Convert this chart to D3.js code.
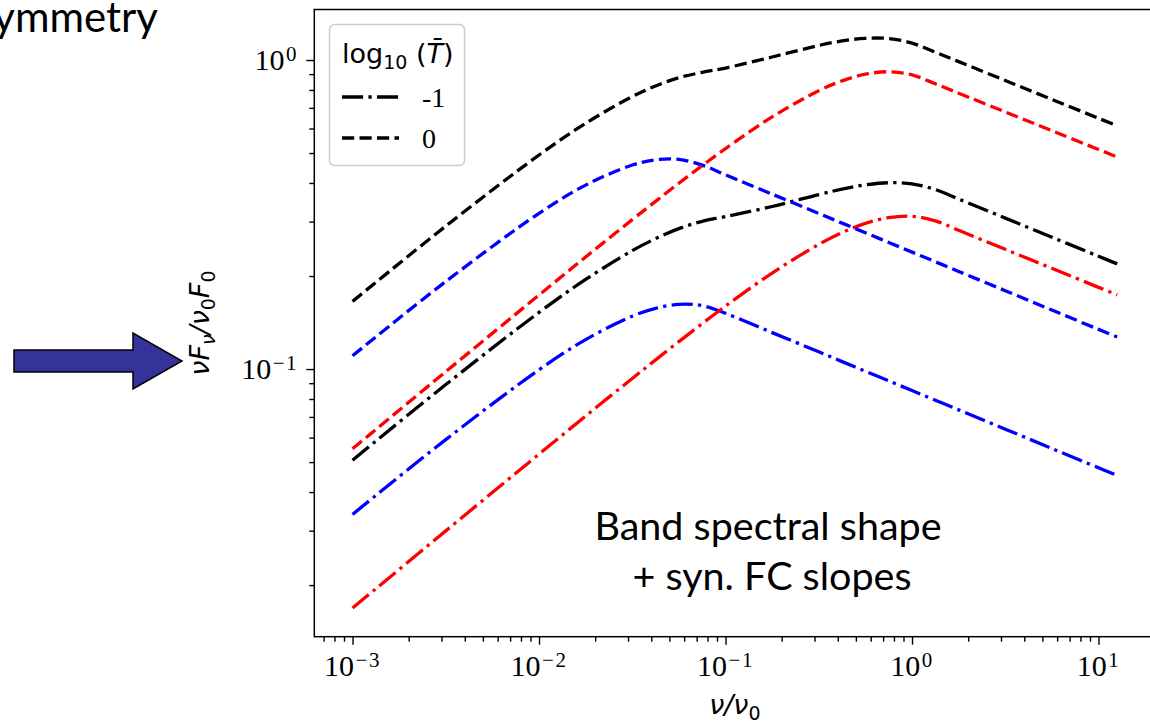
<!DOCTYPE html>
<html>
<head>
<meta charset="utf-8">
<script src="https://cdn.jsdelivr.net/npm/d3@7"></script>
<style>
  body { margin: 0; background: #fff; }
  svg { display: block; }
</style>
</head>
<body>
<svg id="chart" width="1150" height="721"></svg>
<script>
// Frequency grid, nu / nu_0
const nu = [0.001, 0.003162, 0.01, 0.01778, 0.03162, 0.04217, 0.05623, 0.07499, 0.1, 0.1778,
            0.3162, 0.4217, 0.5623, 0.7499, 1, 1.334, 1.778, 3.162, 5.623, 10, 12.59];

// nuF_nu / nu_0 F_0 for log10(T) = 0 (dashed)
const redT0   = [0.0552, 0.0981, 0.1736, 0.2304, 0.3044, 0.3489, 0.3994, 0.4553, 0.5169, 0.6545,
                 0.7954, 0.8562, 0.8995, 0.9162, 0.8950, 0.8375, 0.7810, 0.6791, 0.5905, 0.5134, 0.4855];
const blueT0  = [0.1104, 0.1920, 0.3190, 0.3937, 0.4572, 0.4753, 0.4770, 0.4569, 0.4250, 0.3681,
                 0.3188, 0.2966, 0.2761, 0.2569, 0.2390, 0.2224, 0.2070, 0.1793, 0.1552, 0.1344, 0.1269];
const blackT0 = [0.1656, 0.2901, 0.4926, 0.6241, 0.7616, 0.8242, 0.8764, 0.9122, 0.9419, 1.0226,
                 1.1142, 1.1528, 1.1756, 1.1731, 1.1340, 1.0599, 0.9880, 0.8584, 0.7457, 0.6478, 0.6124];

// nuF_nu / nu_0 F_0 for log10(T) = -1 (dash-dot)
const redT1   = [0.01686, 0.02995, 0.05306, 0.07047, 0.09326, 0.1071, 0.1227, 0.1403, 0.1599, 0.2045,
                 0.2532, 0.2764, 0.2960, 0.3091, 0.3122, 0.3015, 0.2812, 0.2440, 0.2118, 0.1838, 0.1737];
const blueT1  = [0.03386, 0.05913, 0.09947, 0.1245, 0.1483, 0.1572, 0.1619, 0.1604, 0.1515, 0.1312,
                 0.1137, 0.1057, 0.0984, 0.09156, 0.0852, 0.07929, 0.07379, 0.0639, 0.05534, 0.04792, 0.04524];
const blackT1 = [0.05072, 0.08908, 0.1525, 0.1950, 0.2416, 0.2643, 0.2846, 0.3007, 0.3114, 0.3357,
                 0.3669, 0.3821, 0.3944, 0.4007, 0.3974, 0.3808, 0.3550, 0.3079, 0.2671, 0.2317, 0.2189];

// Axis ticks and labels
const xMajor = [1e-3, 1e-2, 1e-1, 1, 10];
const xTickExp = ["\u22123", "\u22122", "\u22121", "0", "1"];
const yMajor = [0.1, 1];
const yTickExp = ["\u22121", "0"];

// Legend
const legendTitle = "log";
const legendEntries = ["-1", "0"];

const W = 1150, H = 721;
const svg = d3.select("#chart");
svg.append("rect").attr("width", W).attr("height", H).attr("fill", "#fff");

const box = { left: 314.3, right: 1155.4, top: 9.5, bottom: 636.7 };
const x = d3.scaleLog().domain([Math.pow(10, -3.205), Math.pow(10, 1.305)]).range([box.left, box.right]);
const y = d3.scaleLog().domain([Math.pow(10, -1.866), Math.pow(10, 0.1634)]).range([box.bottom, box.top]);

const lw = 3.3;
const dashed = [3.7 * lw, 1.6 * lw].join(",");
const dashDot = [6.4 * lw, 1.6 * lw, 1 * lw, 1.6 * lw].join(",");

// minor tick values
function minors(scale) {
  const [a, b] = scale.domain();
  const out = [];
  for (let e = Math.floor(Math.log10(a)); e <= Math.ceil(Math.log10(b)); e++) {
    for (let m = 2; m <= 9; m++) {
      const v = m * Math.pow(10, e);
      if (v >= a && v <= b) out.push(v);
    }
  }
  return out;
}

// ---- axes ----
const gx = svg.append("g").attr("transform", `translate(0,${box.bottom})`);
gx.call(d3.axisBottom(x).tickValues(xMajor).tickSize(8).tickSizeOuter(0).tickFormat(""));
gx.append("g").call(d3.axisBottom(x).tickValues(minors(x)).tickSize(5).tickSizeOuter(0).tickFormat(""));
const gy = svg.append("g").attr("transform", `translate(${box.left},0)`);
gy.call(d3.axisLeft(y).tickValues(yMajor).tickSize(8).tickSizeOuter(0).tickFormat(""));
gy.append("g").call(d3.axisLeft(y).tickValues(minors(y)).tickSize(5).tickSizeOuter(0).tickFormat(""));
svg.selectAll(".domain").remove();
svg.selectAll(".tick line").attr("stroke", "#000").attr("stroke-width", 1.4);

// tick labels 10^n
function powLabel(sel, exp) {
  sel.append("tspan").text("10");
  sel.append("tspan").attr("font-size", 21).attr("dx", 1.5).attr("dy", -9)
    .attr("letter-spacing", 1.5).text(exp);
}
svg.append("g").selectAll("text").data(xMajor).join("text")
  .attr("x", d => x(d)).attr("y", 676)
  .attr("text-anchor", "middle")
  .attr("font-family", "Liberation Serif, serif").attr("font-size", 30).attr("fill", "#000")
  .each(function (d, i) { powLabel(d3.select(this), xTickExp[i]); });
svg.append("g").selectAll("text").data(yMajor).join("text")
  .attr("x", 298).attr("y", d => y(d) + 10)
  .attr("text-anchor", "end")
  .attr("font-family", "Liberation Serif, serif").attr("font-size", 30).attr("fill", "#000")
  .each(function (d, i) { powLabel(d3.select(this), yTickExp[i]); });

// ---- curves ----
svg.append("clipPath").attr("id", "plotclip").append("rect")
  .attr("x", box.left).attr("y", box.top)
  .attr("width", box.right - box.left).attr("height", box.bottom - box.top);

const series = [
  { vals: blueT1, color: "#0000ff", dash: dashDot },
  { vals: redT1, color: "#ff0000", dash: dashDot },
  { vals: blackT1, color: "#000000", dash: dashDot },
  { vals: blueT0, color: "#0000ff", dash: dashed },
  { vals: redT0, color: "#ff0000", dash: dashed },
  { vals: blackT0, color: "#000000", dash: dashed }
];
const line = d3.line()
  .x((d, i) => x(nu[i]))
  .y(d => y(d))
  .curve(d3.curveCatmullRom.alpha(0.5));
svg.append("g").attr("clip-path", "url(#plotclip)")
  .selectAll("path").data(series).join("path")
  .attr("d", s => line(s.vals))
  .attr("fill", "none")
  .attr("stroke", s => s.color)
  .attr("stroke-width", lw)
  .attr("stroke-dasharray", s => s.dash);

// frame
svg.append("rect")
  .attr("x", box.left).attr("y", box.top)
  .attr("width", box.right - box.left).attr("height", box.bottom - box.top)
  .attr("fill", "none").attr("stroke", "#000").attr("stroke-width", 1.5);

// ---- legend ----
const lg = svg.append("g");
lg.append("rect")
  .attr("x", 329.5).attr("y", 24.5).attr("width", 135).attr("height", 141).attr("rx", 5)
  .attr("fill", "#fff").attr("fill-opacity", 0.85)
  .attr("stroke", "#cccccc").attr("stroke-width", 1.5);
const title = lg.append("text").attr("x", 342).attr("y", 63)
  .attr("font-family", "DejaVu Sans, sans-serif").attr("font-size", 27).attr("fill", "#000");
title.append("tspan").text(legendTitle);
title.append("tspan").attr("font-size", 19).attr("dy", 6).text("10");
title.append("tspan").attr("dy", -6).text(" (");
title.append("tspan").attr("font-style", "italic").text("T\u0304");
title.append("tspan").text(")");

const legendDash = [dashDot, dashed];
const legendY = [97, 138];
legendEntries.forEach((lab, i) => {
  lg.append("line")
    .attr("x1", 342).attr("x2", 399).attr("y1", legendY[i]).attr("y2", legendY[i])
    .attr("stroke", "#000").attr("stroke-width", lw).attr("stroke-dasharray", legendDash[i]);
  lg.append("text").attr("x", 422).attr("y", legendY[i] + 10)
    .attr("font-family", "Liberation Serif, serif").attr("font-size", 28).attr("fill", "#000")
    .text(lab);
});

// ---- axis titles ----
function mathLabel(t, parts) {
  parts.forEach(p => {
    const ts = t.append("tspan").text(p.s);
    if (p.it) ts.attr("font-style", "italic");
    if (p.sub) ts.attr("font-size", 19).attr("dy", 6);
    if (p.up) ts.attr("dy", -6);
  });
}
const xl = svg.append("text").attr("x", (box.left + box.right) / 2).attr("y", 714)
  .attr("text-anchor", "middle")
  .attr("font-family", "DejaVu Sans, sans-serif").attr("font-size", 27).attr("fill", "#000");
mathLabel(xl, [{ s: "\u03bd/\u03bd", it: true }, { s: "0", sub: true }]);

const yl = svg.append("text")
  .attr("transform", `translate(209,${(box.top + box.bottom) / 2}) rotate(-90)`)
  .attr("text-anchor", "middle")
  .attr("font-family", "DejaVu Sans, sans-serif").attr("font-size", 27).attr("fill", "#000");
mathLabel(yl, [
  { s: "\u03bdF", it: true }, { s: "\u03bd", it: true, sub: true },
  { s: "/\u03bd", it: true, up: true }, { s: "0", sub: true },
  { s: "F", it: true, up: true }, { s: "0", sub: true }
]);

// ---- annotation ----
const note = svg.append("text")
  .attr("font-family", "Lato, sans-serif").attr("font-size", 39.5).attr("fill", "#000")
  .attr("text-anchor", "middle");
note.append("tspan").attr("x", 768).attr("y", 540).text("Band spectral shape");
note.append("tspan").attr("x", 772).attr("y", 590).text("+ syn. FC slopes");

// slide heading fragment (runs off the left edge)
svg.append("text").attr("x", 158).attr("y", 32).attr("text-anchor", "end")
  .attr("font-family", "Lato, sans-serif").attr("font-size", 42).attr("fill", "#000")
  .text("ymmetry");

// pointer arrow
const arrowPts = [[14, 350], [133, 350], [133, 333], [182, 361], [133, 389], [133, 372], [14, 372]];
svg.append("polygon")
  .attr("points", arrowPts.map(p => p.join(",")).join(" "))
  .attr("fill", "#333399").attr("stroke", "#000").attr("stroke-width", 1.5);
</script>
</body>
</html>
